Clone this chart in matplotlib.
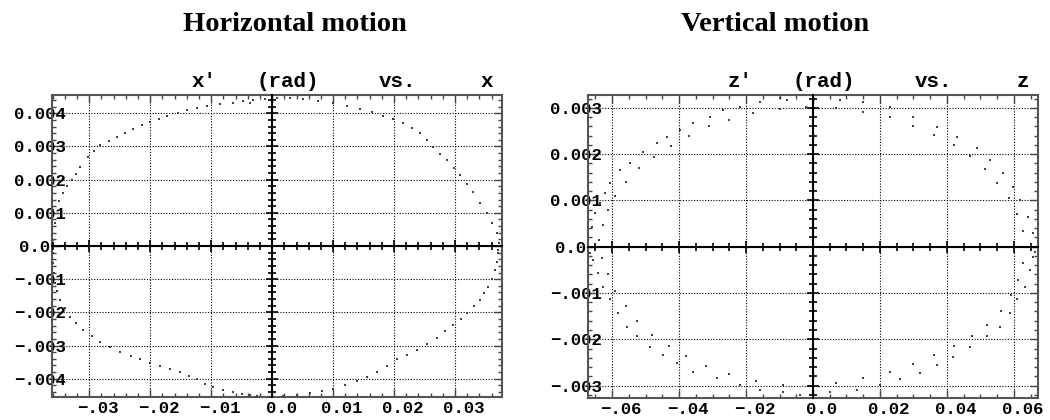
import matplotlib
matplotlib.use('Agg')
import matplotlib.pyplot as plt
from matplotlib.ticker import MultipleLocator
from matplotlib.transforms import ScaledTranslation

# horizontal phase space: x (m) and x' (rad)
hor_x = [-0.0359, -0.0343, -0.0328, -0.0315, -0.0302, -0.0282, -0.0254, -0.0228,
         -0.0200, -0.0172, -0.0139, -0.0107, -0.0064, -0.0031, -0.0036, 0.0008,
         0.0051, 0.0100, 0.0144, 0.0182, 0.0215, 0.0243, 0.0264, 0.0287,
         0.0308, 0.0330, 0.0352, 0.0369, 0.0370, 0.0370, 0.0366, 0.0354,
         0.0341, 0.0320, 0.0297, 0.0270, 0.0238, 0.0205, 0.0172, 0.0139,
         0.0100, 0.0062, 0.0018, -0.0025, -0.0036, -0.0064, -0.0097, -0.0123,
         -0.0151, -0.0184, -0.0216, -0.0249, -0.0282, -0.0310, -0.0331, -0.0348,
         -0.0356, -0.0359, -0.0359, -0.0356,
         -0.0350, -0.0336, -0.0322, -0.0292, -0.0268, -0.0241, -0.0214, -0.0186,
         -0.0155, -0.0123, -0.0085, -0.0048, -0.0012, 0.0030, 0.0075, 0.0122,
         0.0163, 0.0199, 0.0229, 0.0254, 0.0276, 0.0298, 0.0319, 0.0341,
         0.0361, 0.0372, 0.0369, 0.0361, 0.0348, 0.0331, 0.0309, 0.0284,
         0.0254, 0.0222, 0.0189, 0.0156, 0.0120, 0.0081, 0.0040, -0.0005,
         -0.0050, -0.0080, -0.0110, -0.0137, -0.0168, -0.0200, -0.0232, -0.0266,
         -0.0296, -0.0321, -0.0340, -0.0352, -0.0358, -0.0360]
hor_xp = [0.00108, 0.00159, 0.00198, 0.00237, 0.00267, 0.00303, 0.00327, 0.00354,
          0.00375, 0.00393, 0.00411, 0.00423, 0.00432, 0.00441, 0.00432, 0.00447,
          0.00444, 0.00432, 0.00414, 0.00393, 0.00372, 0.00342, 0.00297, 0.00258,
          0.00213, 0.00162, 0.00099, 0.00039, -0.00012, -0.00021, -0.00072, -0.00123,
          -0.00162, -0.00201, -0.00237, -0.00276, -0.00312, -0.00342, -0.00381, -0.00408,
          -0.00432, -0.00444, -0.00453, -0.00453, -0.00450, -0.00441, -0.00426, -0.00402,
          -0.00381, -0.00363, -0.00342, -0.00318, -0.00288, -0.00252, -0.00213, -0.00162,
          -0.00111, -0.00051, 0.00018, 0.00069,
          0.00135, 0.00180, 0.00218, 0.00285, 0.00316, 0.00341, 0.00364, 0.00384,
          0.00402, 0.00417, 0.00428, 0.00437, 0.00444, 0.00446, 0.00438, 0.00423,
          0.00404, 0.00383, 0.00357, 0.00320, 0.00278, 0.00236, 0.00188, 0.00131,
          0.00069, 0.00010, -0.00048, -0.00098, -0.00143, -0.00182, -0.00220, -0.00257,
          -0.00295, -0.00328, -0.00362, -0.00396, -0.00420, -0.00438, -0.00449, -0.00454,
          -0.00446, -0.00434, -0.00415, -0.00392, -0.00372, -0.00353, -0.00330, -0.00303,
          -0.00270, -0.00233, -0.00188, -0.00137, -0.00080, -0.00020]

# vertical phase space: z (m) and z' (rad)
ver_z = [-0.0672, -0.0660, -0.0651, -0.0636, -0.0621, -0.0606, -0.0576, -0.0546,
         -0.0507, -0.0466, -0.0436, -0.0397, -0.0358, -0.0307, -0.0269, -0.0218,
         -0.0158, -0.0099, -0.0078, 0.0000, 0.0081, 0.0149, 0.0230, 0.0299,
         0.0370, 0.0430, 0.0490, 0.0528, 0.0567, 0.0597, 0.0618, 0.0642,
         0.0657, 0.0663, 0.0657, 0.0648, 0.0633, 0.0609, 0.0588, 0.0558,
         0.0519, 0.0469, 0.0418, 0.0370, 0.0319, 0.0260, 0.0200, 0.0131,
         0.0051, -0.0039, -0.0090, -0.0158, -0.0218, -0.0287, -0.0358, -0.0406,
         -0.0448, -0.0487, -0.0525, -0.0555, -0.0582, -0.0606, -0.0627, -0.0642,
         -0.0657, -0.0666,
         -0.0640, -0.0628, -0.0612, -0.0590, -0.0560, -0.0520, -0.0475, -0.0425,
         -0.0370, -0.0310, -0.0250, -0.0180, -0.0100, -0.0020, 0.0070, 0.0150,
         0.0230, 0.0300, 0.0360, 0.0420, 0.0470, 0.0515, 0.0550, 0.0585,
         0.0610, 0.0628, 0.0635, 0.0628, 0.0612, 0.0590, 0.0560, 0.0520,
         0.0475, 0.0420, 0.0360, 0.0300, 0.0230, 0.0150, 0.0070, -0.0010,
         -0.0090, -0.0170, -0.0250, -0.0320, -0.0380, -0.0430, -0.0480, -0.0525,
         -0.0560, -0.0590, -0.0612, -0.0630]
ver_zp = [0.00015, 0.00043, 0.00073, 0.00095, 0.00117, 0.00138, 0.00166, 0.00181,
          0.00205, 0.00225, 0.00238, 0.00253, 0.00268, 0.00281, 0.00296, 0.00302,
          0.00313, 0.00322, 0.00317, 0.00322, 0.00317, 0.00313, 0.00302, 0.00281,
          0.00259, 0.00238, 0.00214, 0.00188, 0.00160, 0.00130, 0.00102, 0.00065,
          0.00030, -0.00011, -0.00022, -0.00050, -0.00086, -0.00114, -0.00143, -0.00173,
          -0.00194, -0.00216, -0.00238, -0.00255, -0.00272, -0.00287, -0.00298, -0.00309,
          -0.00315, -0.00320, -0.00315, -0.00309, -0.00298, -0.00283, -0.00270, -0.00251,
          -0.00233, -0.00216, -0.00194, -0.00173, -0.00143, -0.00114, -0.00086, -0.00056,
          -0.00028, -0.00013,
          0.00015, 0.00048, 0.00080, 0.00110, 0.00140, 0.00170, 0.00195, 0.00218,
          0.00240, 0.00260, 0.00275, 0.00290, 0.00298, 0.00302, 0.00300, 0.00292,
          0.00280, 0.00262, 0.00242, 0.00220, 0.00196, 0.00168, 0.00138, 0.00105,
          0.00070, 0.00035, 0.00000, -0.00035, -0.00072, -0.00105, -0.00140, -0.00170,
          -0.00193, -0.00215, -0.00235, -0.00253, -0.00270, -0.00284, -0.00294, -0.00300,
          -0.00298, -0.00290, -0.00275, -0.00257, -0.00236, -0.00214, -0.00190, -0.00160,
          -0.00128, -0.00095, -0.00060, -0.00025]

hor_xticks = [-0.03, -0.02, -0.01, 0.0, 0.01, 0.02, 0.03]
hor_xlabels = ['\u2212.03', '\u2212.02', '\u2212.01', '0.0', '0.01', '0.02', '0.03']
hor_yticks = [0.004, 0.003, 0.002, 0.001, 0.0, -0.001, -0.002, -0.003, -0.004]
hor_ylabels = ['0.004', '0.003', '0.002', '0.001', '0.0',
               '\u2212.001', '\u2212.002', '\u2212.003', '\u2212.004']

ver_xticks = [-0.06, -0.04, -0.02, 0.0, 0.02, 0.04, 0.06]
ver_xlabels = ['\u2212.06', '\u2212.04', '\u2212.02', '0.0', '0.02', '0.04', '0.06']
ver_yticks = [0.003, 0.002, 0.001, 0.0, -0.001, -0.002, -0.003]
ver_ylabels = ['0.003', '0.002', '0.001', '0.0', '\u2212.001', '\u2212.002', '\u2212.003']

MONO = 'Liberation Mono'

fig = plt.figure(figsize=(10.5, 4.2), dpi=100)


def panel(rect, xs, ys, xlim, ylim, xticks, xlabels, yticks, ylabels,
          xminor, yminor, var):
    ax = fig.add_axes(rect)
    ax.set_xlim(xlim)
    ax.set_ylim(ylim)
    ax.scatter(xs, ys, s=1.6, c='#404040', marker='s', linewidths=0, zorder=3)

    ax.set_xticks(xticks)
    ax.set_xticklabels(xlabels, fontfamily=MONO, fontweight='bold', fontsize=12.5)
    ax.set_yticks(yticks)
    ax.set_yticklabels(ylabels, fontfamily=MONO, fontweight='bold', fontsize=12.5)
    ax.xaxis.set_minor_locator(MultipleLocator(xminor))
    ax.yaxis.set_minor_locator(MultipleLocator(yminor))
    ax.tick_params(which='both', direction='in', top=True, right=True,
                   color='#444444', width=1.0)
    ax.tick_params(which='major', length=6)
    ax.tick_params(which='minor', length=3)
    ax.tick_params(axis='y', pad=-10)
    ax.tick_params(axis='x', pad=3)
    shift = ScaledTranslation(9 / 100, 0, fig.dpi_scale_trans)
    for lab in ax.get_xticklabels():
        lab.set_transform(lab.get_transform() + shift)
    # the short zero label sits further left, clear of the axis line
    zshift = ScaledTranslation(-16 / 100, 0, fig.dpi_scale_trans)
    for lab in ax.get_yticklabels():
        if lab.get_text() == '0.0':
            lab.set_transform(lab.get_transform() + zshift)
    ax.grid(True, which='major', color='black', linestyle=(0, (1, 1.5)), linewidth=0.8)
    for sp in ax.spines.values():
        sp.set_color('#555555')
        sp.set_linewidth(1.5)

    # central axes through the origin
    ax0 = fig.add_axes(rect)
    ax0.set_xlim(xlim)
    ax0.set_ylim(ylim)
    ax0.patch.set_visible(False)
    ax0.set_xticks(xticks)
    ax0.set_yticks(yticks)
    ax0.xaxis.set_minor_locator(MultipleLocator(xminor))
    ax0.yaxis.set_minor_locator(MultipleLocator(yminor))
    ax0.spines['left'].set_position(('data', 0))
    ax0.spines['bottom'].set_position(('data', 0))
    ax0.spines['top'].set_visible(False)
    ax0.spines['right'].set_visible(False)
    for s in ('left', 'bottom'):
        ax0.spines[s].set_linewidth(1.5)
        ax0.spines[s].set_color('black')
    ax0.tick_params(which='both', direction='inout', labelleft=False,
                    labelbottom=False, color='black', width=1.2)
    ax0.tick_params(which='major', length=9)
    ax0.tick_params(which='minor', length=6)

    # title pieces: "v'  (rad)  vs.  v"
    kw = dict(transform=ax.transAxes, fontfamily=MONO, fontweight='bold',
              fontsize=15, ha='center', va='baseline')
    ax.text(0.338, 1.027, var + "\u2032", **kw)
    ax.text(0.523, 1.027, '(rad)', **kw)
    ax.text(0.768, 1.027, 'vs.', **kw)
    ax.text(0.966, 1.027, var, **kw)
    return ax


panel([52 / 1050, 1 - 397 / 420, 450 / 1050, 302 / 420], hor_x, hor_xp,
      (-0.0361, 0.0377), (-0.00455, 0.00455), hor_xticks, hor_xlabels,
      hor_yticks, hor_ylabels, 0.002, 0.0002, 'x')
panel([588 / 1050, 1 - 398 / 420, 450 / 1050, 303 / 420], ver_z, ver_zp,
      (-0.0672, 0.0672), (-0.00327, 0.00328), ver_xticks, ver_xlabels,
      ver_yticks, ver_ylabels, 0.005, 0.0002, 'z')

tkw = dict(fontfamily='Liberation Serif', fontweight='bold', fontsize=20.5,
           ha='center', va='baseline')
fig.text(295 / 1050, 1 - 31 / 420, 'Horizontal motion', **tkw)
fig.text(775 / 1050, 1 - 31 / 420, 'Vertical motion', **tkw)

fig.savefig('out.png', dpi=100)
